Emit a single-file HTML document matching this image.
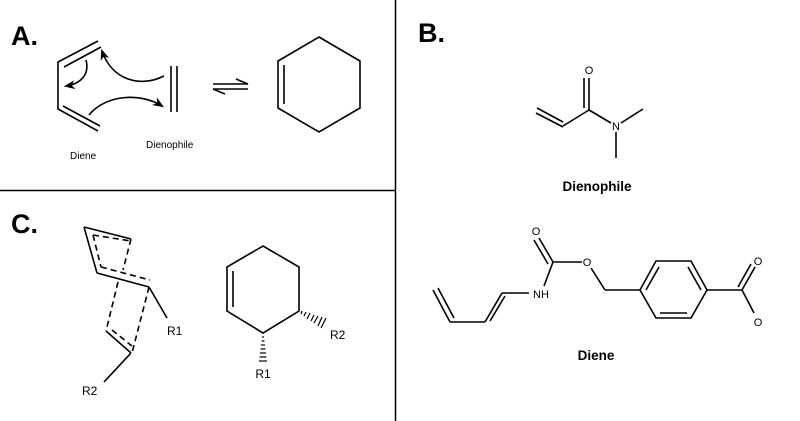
<!DOCTYPE html>
<html><head><meta charset="utf-8"><style>
html,body{margin:0;padding:0;background:#fff;}
svg{display:block;}
text{font-family:"Liberation Sans",Arial,sans-serif;fill:#000;}
</style></head><body>
<svg width="800" height="421" viewBox="0 0 800 421" xmlns="http://www.w3.org/2000/svg">
<defs>
<marker id="ah" viewBox="0 0 10 10" refX="8" refY="5" markerWidth="7" markerHeight="7" orient="auto-start-reverse"><path d="M0,1 L10,5 L0,9 L3,5 Z" fill="#000"/></marker>
</defs>
<g stroke="#000" fill="none" stroke-width="1.6">
<line x1="395.5" y1="0" x2="395.5" y2="421" stroke-width="1.5"/>
<line x1="0" y1="190.5" x2="395" y2="190.5" stroke-width="1.5"/>

<polyline points="98,41 58,62 58,109 98,131"/>
<line x1="64" y1="67" x2="101" y2="47"/>
<line x1="63" y1="106" x2="100" y2="126"/>
<path d="M86,60 C90,75 80,84 66,86" marker-end="url(#ah)"/>
<path d="M164,76 C140,88 112,80 102,51" marker-end="url(#ah)"/>
<path d="M89,115 C105,95 140,92 162,106" marker-end="url(#ah)"/>
<line x1="171" y1="66" x2="171" y2="112"/>
<line x1="177" y1="66" x2="177" y2="112"/>
<line x1="213" y1="84" x2="248" y2="84"/>
<path d="M248,84 L236,79" />
<line x1="213" y1="89" x2="248" y2="89"/>
<path d="M213,89 L225,94"/>
<polygon points="319,37 360,61 360,108 319,132 278,108 278,61"/>
<line x1="284" y1="65" x2="284" y2="104"/>

<line x1="537" y1="108" x2="563" y2="122"/>
<line x1="536" y1="113" x2="563" y2="127"/>
<line x1="563" y1="126" x2="589" y2="110"/>
<line x1="589" y1="110" x2="589" y2="78"/>
<line x1="584" y1="108" x2="584" y2="78"/>
<line x1="589" y1="110" x2="611" y2="123"/>
<line x1="621" y1="123" x2="643" y2="109"/>
<line x1="616" y1="132" x2="616" y2="158"/>

<line x1="433" y1="290" x2="450" y2="322"/>
<line x1="438" y1="288" x2="454" y2="318"/>
<line x1="450" y1="322" x2="485" y2="322"/>
<line x1="485" y1="322" x2="502" y2="293"/>
<line x1="490" y1="321" x2="505" y2="296"/>
<line x1="502" y1="293" x2="529" y2="293"/>
<line x1="544" y1="286" x2="553" y2="262"/>
<line x1="553" y1="262" x2="539" y2="238"/>
<line x1="548" y1="264" x2="534" y2="240"/>
<line x1="553" y1="262" x2="582" y2="262"/>
<line x1="591" y1="268" x2="605" y2="290"/>
<line x1="605" y1="290" x2="640" y2="290"/>
<polygon points="640,290 656,261 691,261 707,290 691,318 656,318"/>
<line x1="646" y1="290" x2="659" y2="267"/>
<line x1="688" y1="267" x2="701" y2="290"/>
<line x1="660" y1="313" x2="687" y2="313"/>
<line x1="707" y1="290" x2="742" y2="290"/>
<line x1="742" y1="290" x2="755" y2="267"/>
<line x1="738" y1="287" x2="751" y2="264"/>
<line x1="742" y1="290" x2="754" y2="313"/>

<line x1="84" y1="227" x2="131" y2="239"/>
<line x1="84" y1="227" x2="97" y2="273"/>
<line x1="97" y1="273" x2="149" y2="287"/>
<g stroke-dasharray="6,4">
<line x1="93" y1="235" x2="131" y2="241"/>
<line x1="93" y1="235" x2="101" y2="267"/>
<line x1="131" y1="239" x2="123" y2="270"/>
<line x1="101" y1="267" x2="150" y2="280"/>
<line x1="118" y1="282" x2="106" y2="331"/>
<line x1="149" y1="287" x2="132" y2="353"/>
<line x1="112" y1="330" x2="132" y2="346"/>
</g>
<line x1="106" y1="331" x2="131" y2="353"/>
<line x1="149" y1="287" x2="167" y2="318"/>
<line x1="131" y1="353" x2="104" y2="382"/>

<polygon points="263,246 299,267 299,311 263,333 227,311 227,267"/>
<line x1="233" y1="271" x2="233" y2="307"/>
</g>
<g stroke="#000" stroke-width="1.2">
<line x1="302" y1="311" x2="301" y2="314"/>
<line x1="306" y1="312" x2="304" y2="316"/>
<line x1="310" y1="313" x2="307" y2="319"/>
<line x1="314" y1="315" x2="311" y2="321"/>
<line x1="318" y1="316" x2="314" y2="323"/>
<line x1="322" y1="317" x2="318" y2="326"/>
<line x1="326" y1="318" x2="321" y2="328"/>
<line x1="262" y1="337" x2="264" y2="337"/>
<line x1="261.5" y1="341" x2="264.5" y2="341"/>
<line x1="261" y1="345" x2="265" y2="345"/>
<line x1="260.5" y1="349" x2="265.5" y2="349"/>
<line x1="260" y1="353" x2="266" y2="353"/>
<line x1="259.5" y1="357" x2="266.5" y2="357"/>
<line x1="259" y1="361" x2="267" y2="361"/>
</g>

<text x="11" y="45" font-size="27" font-weight="bold">A.</text>
<text x="418" y="42" font-size="27" font-weight="bold">B.</text>
<text x="11" y="233" font-size="27" font-weight="bold">C.</text>
<text x="70" y="159" font-size="10">Diene</text>
<text x="146" y="148" font-size="10">Dienophile</text>
<text x="589" y="74" font-size="11" text-anchor="middle">O</text>
<text x="616" y="130" font-size="11" text-anchor="middle">N</text>
<text x="597" y="191" font-size="13.5" font-weight="bold" text-anchor="middle">Dienophile</text>
<text x="536" y="235" font-size="11" text-anchor="middle">O</text>
<text x="587" y="266" font-size="11" text-anchor="middle">O</text>
<text x="541" y="298" font-size="11" text-anchor="middle">NH</text>
<text x="758" y="265" font-size="11" text-anchor="middle">O</text>
<text x="758" y="326" font-size="11" text-anchor="middle">O</text>
<text x="596" y="360" font-size="13.5" font-weight="bold" text-anchor="middle">Diene</text>
<text x="167" y="335" font-size="12">R1</text>
<text x="82" y="395" font-size="12">R2</text>
<text x="330" y="339" font-size="12">R2</text>
<text x="263" y="378" font-size="12" text-anchor="middle">R1</text>
</svg>
</body></html>
